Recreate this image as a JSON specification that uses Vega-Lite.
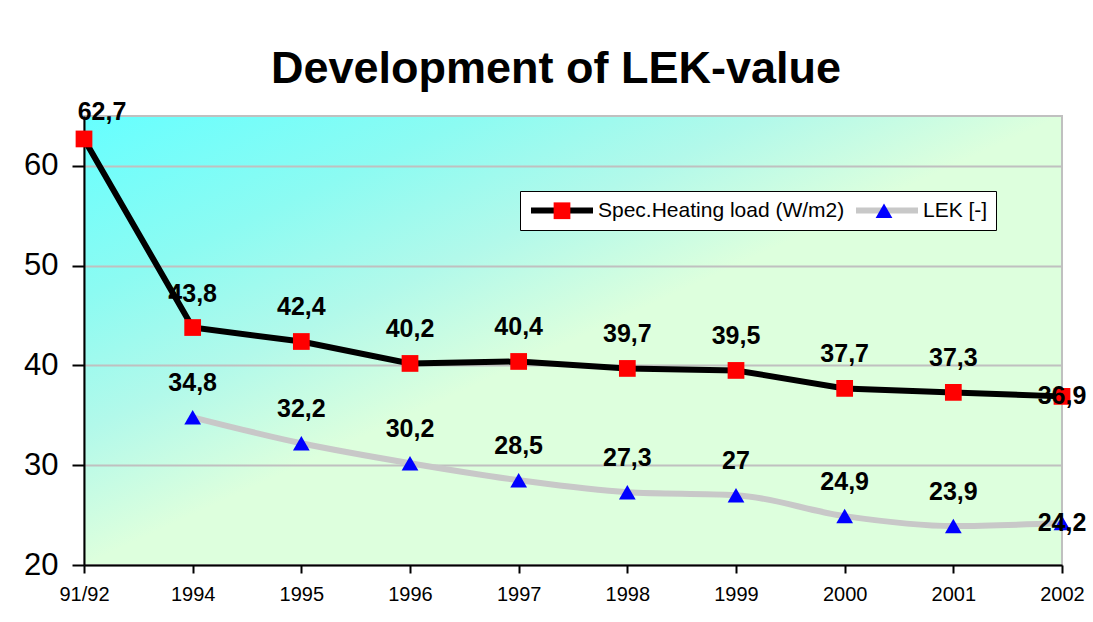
{
  "$schema": "https://vega.github.io/schema/vega-lite/v6.json",
  "width": 978,
  "height": 449,
  "autosize": {"type": "none"},
  "padding": {"left": 84, "top": 116, "right": 31, "bottom": 57},
  "background": "white",
  "config": {
    "locale": {"number": {"decimal": ",", "thousands": ".", "grouping": [3], "currency": ["", ""]}},
    "font": "Liberation Sans",
    "view": {
      "stroke": "#C0C0C0",
      "strokeWidth": 2,
      "fill": {
        "gradient": "linear", "x1": 0, "y1": 0, "x2": 1, "y2": 1,
        "stops": [
          {"offset": 0, "color": "#66FFFF"},
          {"offset": 0.2, "color": "#8CFBF2"},
          {"offset": 0.35, "color": "#B2F9EA"},
          {"offset": 0.5, "color": "#DDFFDD"},
          {"offset": 1, "color": "#DDFFDD"}
        ]
      }
    }
  },
  "title": {
    "text": "Development of LEK-value",
    "font": "Liberation Sans",
    "fontSize": 45,
    "fontWeight": "bold",
    "color": "black",
    "anchor": "middle",
    "dx": -17,
    "offset": 8
  },
  "data": {
    "values": [
      {"year": "91/92", "series": "Spec.Heating load (W/m2)", "value": 62.7},
      {"year": "1994", "series": "Spec.Heating load (W/m2)", "value": 43.8},
      {"year": "1995", "series": "Spec.Heating load (W/m2)", "value": 42.4},
      {"year": "1996", "series": "Spec.Heating load (W/m2)", "value": 40.2},
      {"year": "1997", "series": "Spec.Heating load (W/m2)", "value": 40.4},
      {"year": "1998", "series": "Spec.Heating load (W/m2)", "value": 39.7},
      {"year": "1999", "series": "Spec.Heating load (W/m2)", "value": 39.5},
      {"year": "2000", "series": "Spec.Heating load (W/m2)", "value": 37.7},
      {"year": "2001", "series": "Spec.Heating load (W/m2)", "value": 37.3},
      {"year": "2002", "series": "Spec.Heating load (W/m2)", "value": 36.9},
      {"year": "1994", "series": "LEK [-]", "value": 34.8},
      {"year": "1995", "series": "LEK [-]", "value": 32.2},
      {"year": "1996", "series": "LEK [-]", "value": 30.2},
      {"year": "1997", "series": "LEK [-]", "value": 28.5},
      {"year": "1998", "series": "LEK [-]", "value": 27.3},
      {"year": "1999", "series": "LEK [-]", "value": 27},
      {"year": "2000", "series": "LEK [-]", "value": 24.9},
      {"year": "2001", "series": "LEK [-]", "value": 23.9},
      {"year": "2002", "series": "LEK [-]", "value": 24.2}
    ]
  },
  "encoding": {
    "x": {
      "field": "year",
      "type": "ordinal",
      "scale": {"type": "point", "padding": 0, "domain": ["91/92", "1994", "1995", "1996", "1997", "1998", "1999", "2000", "2001", "2002"]},
      "axis": {
        "title": null, "labelAngle": 0, "labelFontSize": 20, "labelColor": "black", "labelFont": "Liberation Sans",
        "labelPadding": 11, "tickSize": 8, "tickWidth": 2, "tickColor": "black",
        "domainColor": "black", "domainWidth": 2, "grid": false
      }
    },
    "y": {
      "field": "value",
      "type": "quantitative",
      "scale": {"domain": [20, 65], "nice": false, "zero": false},
      "axis": {
        "title": null, "values": [20, 30, 40, 50, 60], "labelFontSize": 31, "labelColor": "black", "labelFont": "Liberation Sans",
        "labelPadding": 14, "tickSize": 12, "tickWidth": 2, "tickColor": "black",
        "domainColor": "black", "domainWidth": 2, "grid": true, "gridColor": "#C0C0C0", "gridWidth": 2
      }
    }
  },
  "layer": [
    {
      "transform": [{"filter": "datum.series == 'LEK [-]'"}],
      "mark": {"type": "line", "strokeWidth": 6, "interpolate": "monotone"},
      "encoding": {
        "stroke": {
          "field": "series", "type": "nominal",
          "scale": {"domain": ["Spec.Heating load (W/m2)", "LEK [-]"], "range": ["black", "#C8C8C8"]},
          "legend": {
            "title": null, "orient": "none", "legendX": 436, "legendY": 75, "direction": "horizontal",
            "symbolType": "stroke", "symbolSize": 3844, "symbolStrokeWidth": 6, "clipHeight": 23,
            "labelFontSize": 21, "labelFont": "Liberation Sans", "labelColor": "black", "labelOffset": 2, "labelLimit": 400,
            "columnPadding": 8, "padding": 8, "fillColor": "white", "strokeColor": "black",
            "encode": {"legend": {"strokeWidth": {"value": 2.5}}}
          }
        }
      }
    },
    {
      "transform": [{"filter": "datum.series != 'LEK [-]'"}],
      "mark": {"type": "line", "strokeWidth": 6},
      "encoding": {
        "stroke": {
          "field": "series", "type": "nominal",
          "scale": {"domain": ["Spec.Heating load (W/m2)", "LEK [-]"], "range": ["black", "#C8C8C8"]}
        }
      }
    },
    {
      "mark": {"type": "point", "filled": true, "opacity": 1, "size": 280, "strokeWidth": 0},
      "encoding": {
        "shape": {
          "field": "series", "type": "nominal", "sort": "descending",
          "scale": {"range": ["square", "triangle-up"]},
          "legend": {
            "title": null, "orient": "none", "legendX": 467.5, "legendY": 84, "direction": "horizontal",
            "symbolSize": 280, "symbolStrokeWidth": 0, "symbolOffset": 0,
            "labelFontSize": 21, "labelExpr": "''", "labelOffset": 0,
            "columnPadding": 301, "padding": 0
          }
        },
        "fill": {
          "field": "series", "type": "nominal", "sort": "descending",
          "scale": {"range": ["#FF0000", "#0000FF"]},
          "legend": {
            "title": null, "orient": "none", "legendX": 467.5, "legendY": 84, "direction": "horizontal",
            "symbolSize": 280, "symbolStrokeWidth": 0, "symbolOffset": 0,
            "labelFontSize": 21, "labelExpr": "''", "labelOffset": 0,
            "columnPadding": 301, "padding": 0
          }
        }
      }
    },
    {
      "mark": {
        "type": "text", "fontSize": 25, "fontWeight": "bold", "font": "Liberation Sans", "color": "black", "baseline": "middle",
        "dy": {"expr": "datum.year == '2002' ? 0 : (datum.year == '91/92' ? -27 : -34)"},
        "dx": {"expr": "datum.year == '91/92' ? 18 : 0"}
      },
      "encoding": {
        "text": {"field": "value", "type": "quantitative", "format": ".1~f"}
      }
    }
  ]
}
